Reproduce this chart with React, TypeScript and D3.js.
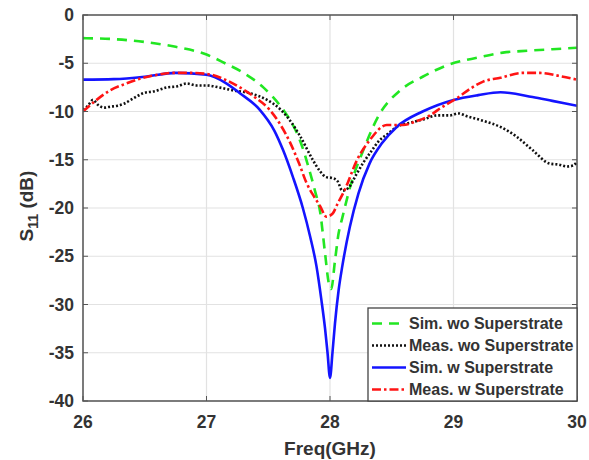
import React from "react";
import * as d3 from "d3";

const xTicks = [26, 27, 28, 29, 30];
const yTicks = [0, -5, -10, -15, -20, -25, -30, -35, -40];

const simWoX = [26, 26.25, 26.5, 26.75, 27, 27.15, 27.3, 27.46, 27.62, 27.7, 27.76, 27.84, 27.88, 27.92, 27.96, 27.99, 28.01, 28.04, 28.07, 28.1, 28.17, 28.27, 28.4, 28.57, 28.75, 28.95, 29.2, 29.4, 29.6, 29.8, 30];
const simWoY = [-2.4, -2.5, -2.8, -3.3, -4.1, -5.0, -6.0, -7.5, -9.8, -11.4, -13.1, -16.4, -18.3, -20.4, -24.7, -27.8, -28.4, -25.5, -22.6, -21, -17.5, -14, -10.3, -7.8, -6.4, -5.2, -4.4, -3.9, -3.7, -3.55, -3.4];

const measWoX = [26, 26.04, 26.08, 26.12, 26.17, 26.22, 26.28, 26.33, 26.4, 26.49, 26.58, 26.68, 26.76, 26.84, 26.92, 27.0, 27.1, 27.21, 27.35, 27.49, 27.6, 27.68, 27.76, 27.86, 27.92, 27.97, 28.02, 28.06, 28.1, 28.15, 28.21, 28.27, 28.33, 28.4, 28.47, 28.54, 28.67, 28.76, 28.87, 28.97, 29.04, 29.11, 29.25, 29.38, 29.51, 29.64, 29.78, 29.85, 29.92, 29.97, 30];
const measWoY = [-9.8, -9.4, -8.8, -9.3, -9.6, -9.5, -9.4, -9.2, -8.7, -8.1, -7.9, -7.5, -7.4, -7.1, -7.3, -7.3, -7.5, -7.8, -8.1, -8.8, -9.8, -11.0, -12.6, -15.0, -16.2, -16.8, -16.9, -17.2, -18.2, -17.9, -16.6, -15.3, -14.2, -13.0, -12.3, -11.6, -11.1, -10.8, -10.4, -10.4, -10.2, -10.5, -11, -11.6, -12.6, -14, -15.4, -15.5, -15.7, -15.6, -15.2];

const simWX = [26, 26.25, 26.5, 26.75, 27, 27.15, 27.27, 27.43, 27.55, 27.62, 27.7, 27.78, 27.84, 27.89, 27.93, 27.96, 27.98, 28.0, 28.02, 28.04, 28.07, 28.1, 28.16, 28.23, 28.32, 28.42, 28.54, 28.75, 29.0, 29.2, 29.38, 29.64, 29.8, 30];
const simWY = [-6.7, -6.65, -6.4, -6.0, -6.2, -7.0, -8.1, -9.8, -12, -14, -16.8, -20, -23, -26, -29.5, -32.5, -35, -37.6, -35, -32, -28.5, -26, -22, -18.5, -15.4, -13.3, -11.6, -10.0, -8.8, -8.3, -8.0, -8.5, -8.9, -9.4];

const measWX = [26, 26.1, 26.22, 26.35, 26.46, 26.6, 26.73, 26.87, 27.0, 27.15, 27.27, 27.4, 27.51, 27.6, 27.68, 27.75, 27.81, 27.87, 27.92, 27.97, 28.02, 28.06, 28.12, 28.22, 28.32, 28.46, 28.59, 28.7, 28.81, 28.9, 29.03, 29.14, 29.24, 29.38, 29.56, 29.7, 29.85, 30];
const measWY = [-10, -8.9, -7.8, -7.1, -6.6, -6.2, -6.0, -6.0, -6.1, -6.7, -7.5, -8.6, -9.8, -11.4, -13.3, -15.4, -17.4, -18.8, -19.8, -20.9, -20.6, -19.6, -18.1, -15, -13, -11.4, -11.4, -11.0, -10.4, -9.6, -8.6, -7.6, -6.9, -6.5, -6.0, -6.0, -6.3, -6.7];

const seriesNames = ["Sim. wo Superstrate", "Meas. wo Superstrate", "Sim. w Superstrate", "Meas. w Superstrate"];

const W = 589, H = 460;
const L = 83, R = 577, T = 15, B = 401;

export default function App() {
  const x = d3.scaleLinear().domain([26, 30]).range([L, R]);
  const y = d3.scaleLinear().domain([-40, 0]).range([B, T]);
  const line = d3.line<[number, number]>().x(d => x(d[0])).y(d => y(d[1])).curve(d3.curveMonotoneX);
  const zip = (a: number[], b: number[]) => a.map((v, i) => [v, b[i]] as [number, number]);

  const series = [
    { name: seriesNames[0], pts: zip(simWoX, simWoY), color: "#22e622", dash: "10,7", width: 2.6 },
    { name: seriesNames[1], pts: zip(measWoX, measWoY), color: "#111", dash: "2,2", width: 2.6 },
    { name: seriesNames[2], pts: zip(simWX, simWY), color: "#1414ff", dash: "", width: 2.6 },
    { name: seriesNames[3], pts: zip(measWX, measWY), color: "#ff1414", dash: "9,3,2.5,3", width: 2.6 },
  ];
  const drawOrder = [0, 1, 2, 3];
  const font = "'Liberation Sans', Arial, sans-serif";
  const txt = "#333";

  const legX = 368, legY = 308;
  return (
    <svg width={W} height={H} style={{ position: "absolute", left: 0, top: 0, background: "#fff" }}>
      <defs>
        <clipPath id="clip"><rect x={L} y={T} width={R - L} height={B - T} /></clipPath>
      </defs>
      <rect x={0} y={0} width={W} height={H} fill="#fff" />
      {xTicks.map(t => (
        <line key={"gx" + t} x1={x(t)} x2={x(t)} y1={T} y2={B} stroke="#e2e2e2" strokeWidth={1.2} />
      ))}
      {yTicks.map(t => (
        <line key={"gy" + t} x1={L} x2={R} y1={y(t)} y2={y(t)} stroke="#e2e2e2" strokeWidth={1.2} />
      ))}
      <g clipPath="url(#clip)">
        {drawOrder.map(i => {
          const s = series[i];
          return (
            <path key={s.name} d={line(s.pts) || ""} fill="none" stroke={s.color}
              strokeWidth={s.width} strokeDasharray={s.dash || undefined} strokeLinejoin="round" />
          );
        })}
      </g>
      {xTicks.map(t => (
        <g key={"tx" + t}>
          <line x1={x(t)} x2={x(t)} y1={B} y2={B - 5} stroke="#555" strokeWidth={1} />
          <line x1={x(t)} x2={x(t)} y1={T} y2={T + 5} stroke="#555" strokeWidth={1} />
          <text x={x(t)} y={428} textAnchor="middle" fontFamily={font} fontWeight="bold" fontSize={17.5} fill={txt}>{t}</text>
        </g>
      ))}
      {yTicks.map(t => (
        <g key={"ty" + t}>
          <line x1={L} x2={L + 5} y1={y(t)} y2={y(t)} stroke="#555" strokeWidth={1} />
          <line x1={R} x2={R - 5} y1={y(t)} y2={y(t)} stroke="#555" strokeWidth={1} />
          <text x={74} y={y(t) + 6} textAnchor="end" fontFamily={font} fontWeight="bold" fontSize={17.5} fill={txt}>{t}</text>
        </g>
      ))}
      <rect x={L} y={T} width={R - L} height={B - T} fill="none" stroke="#555" strokeWidth={1.5} />
      <text x={330} y={455} textAnchor="middle" fontFamily={font} fontWeight="bold" fontSize={19} fill={txt}>Freq(GHz)</text>
      <text transform="translate(33,206) rotate(-90)" textAnchor="middle" fontFamily={font} fontWeight="bold" fontSize={19} fill={txt}>
        S<tspan fontSize={14} dy={5}>11</tspan><tspan dy={-5}> (dB)</tspan>
      </text>
      <rect x={legX} y={legY} width={R - legX} height={B - legY} fill="#fff" stroke="#444" strokeWidth={1.3} />
      {series.map((s, i) => {
        const cy = legY + 15.5 + i * 22;
        return (
          <g key={"lg" + i}>
            <line x1={372} x2={406} y1={cy} y2={cy} stroke={s.color} strokeWidth={s.width} strokeDasharray={s.dash || undefined} />
            <text x={409} y={cy + 5.5} fontFamily={font} fontWeight="bold" fontSize={16} fill={txt}>{s.name}</text>
          </g>
        );
      })}
    </svg>
  );
}
